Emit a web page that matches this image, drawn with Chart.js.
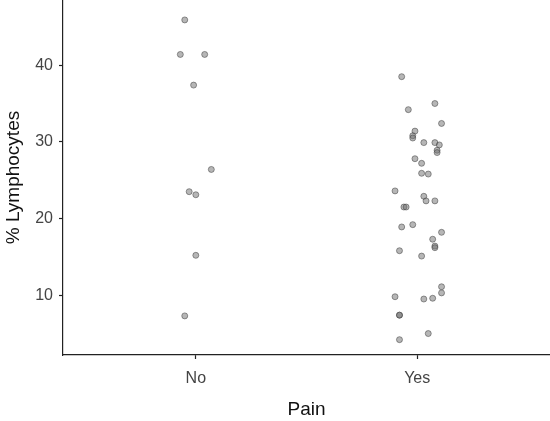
<!DOCTYPE html>
<html>
<head>
<meta charset="utf-8">
<script src="https://cdn.jsdelivr.net/npm/chart.js@4.4.1/dist/chart.umd.min.js"></script>
<style>
html,body{margin:0;padding:0;background:#fff;}
#wrap{width:550px;height:421px;position:relative;}
</style>
</head>
<body>
<div id="wrap"><canvas id="c" width="550" height="421"></canvas></div>
<script>
const categories = ['No', 'Yes'];
const yTicks = [10, 20, 30, 40];
// jittered x positions (1 = No, 2 = Yes) and % lymphocytes
const noX = [0.95, 0.93, 1.04, 0.99, 1.07, 0.97, 1.00, 1.00, 0.95];
const noY = [45.9, 41.4, 41.4, 37.4, 26.4, 23.5, 23.1, 15.2, 7.3];
const yesX = [1.93, 2.08, 1.96, 2.11, 1.99, 1.98, 1.98, 2.03, 2.08, 2.10, 2.09, 2.09, 1.99, 2.02, 2.02, 2.05,
              1.90, 2.03, 2.04, 2.08, 1.94, 1.95, 1.98, 1.93, 2.11, 2.07, 2.08, 2.08, 1.92, 2.02, 2.11, 2.11,
              1.90, 2.03, 2.07, 1.92, 1.92, 2.05, 1.92];
const yesY = [38.5, 35.0, 34.2, 32.4, 31.4, 30.8, 30.5, 29.9, 29.9, 29.6, 28.9, 28.6, 27.8, 27.2, 25.9, 25.8,
              23.6, 22.9, 22.3, 22.3, 21.5, 21.5, 19.2, 18.9, 18.2, 17.3, 16.4, 16.2, 15.8, 15.1, 11.1, 10.3,
              9.8, 9.5, 9.6, 7.4, 7.4, 5.0, 4.2];

const toPts = (xs, ys) => xs.map((x, i) => ({x: x, y: ys[i]}));
const zeroPad = s => { s.paddingTop = 0; s.paddingBottom = 0; s.paddingLeft = 0; s.paddingRight = 0; };

new Chart(document.getElementById('c'), {
  type: 'scatter',
  data: {
    datasets: [{
      data: toPts(noX, noY).concat(toPts(yesX, yesY)),
      backgroundColor: 'rgba(110,110,110,0.5)',
      borderColor: 'rgba(60,60,60,0.5)',
      borderWidth: 1,
      pointRadius: 3
    }]
  },
  options: {
    responsive: false,
    animation: false,
    layout: {padding: 0, autoPadding: false},
    plugins: {legend: {display: false}, tooltip: {enabled: false}},
    scales: {
      x: {
        type: 'linear', min: 0.4, max: 2.6,
        afterBuildTicks: a => { a.ticks = [1, 2].map(v => ({value: v})); },
        afterFit: s => { s.height = 66; zeroPad(s); },
        ticks: {
          callback: v => categories[Math.round(v) - 1],
          font: {family: 'Liberation Sans', size: 16},
          color: '#444', padding: 10, maxRotation: 0
        },
        grid: {drawOnChartArea: false, drawTicks: true, tickLength: 4, color: '#222', tickWidth: 1.2},
        border: {display: true, color: '#222', width: 1.2},
        title: {display: true, text: 'Pain', font: {family: 'Liberation Sans', size: 19}, color: '#111', padding: {top: 8, bottom: 0}}
      },
      y: {
        type: 'linear', min: 2.2, max: 48.5,
        afterBuildTicks: a => { a.ticks = yTicks.map(v => ({value: v})); },
        afterFit: s => { s.width = 63; zeroPad(s); },
        ticks: {font: {family: 'Liberation Sans', size: 16}, color: '#444', padding: 6},
        grid: {drawOnChartArea: false, drawTicks: true, tickLength: 4, color: '#222', tickWidth: 1.2},
        border: {display: true, color: '#222', width: 1.2},
        title: {display: true, text: '% Lymphocytes', font: {family: 'Liberation Sans', size: 19}, color: '#111', padding: {top: 2, bottom: 2}}
      }
    }
  }
});
</script>
</body>
</html>
